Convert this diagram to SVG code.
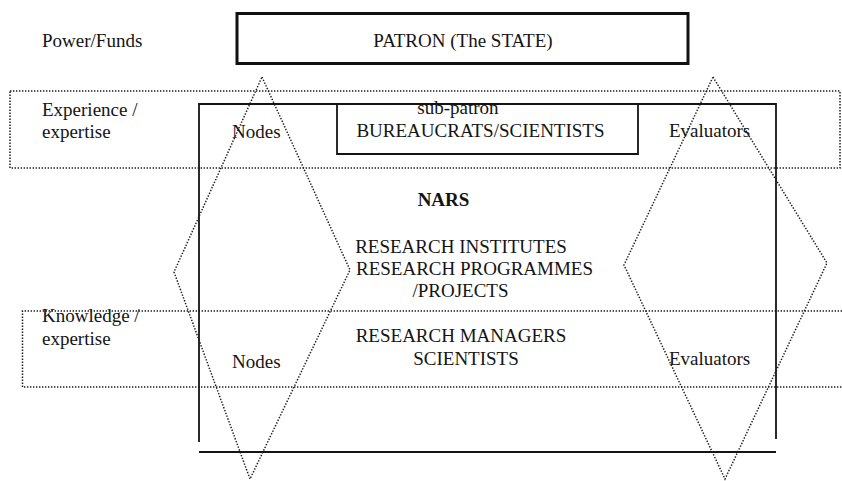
<svg xmlns="http://www.w3.org/2000/svg" width="842" height="481" viewBox="0 0 842 481">
  <style>
    text { font-family: "Liberation Serif", "Times New Roman", serif; font-size: 19px; fill: #141414; }
    .mid { text-anchor: middle; }
    .bold { font-weight: bold; }
    .solid { fill: none; stroke: #141414; stroke-width: 1.8; }
    .thick { fill: none; stroke: #111; stroke-width: 3; }
    .dot { fill: none; stroke: #1e1e1e; stroke-width: 1.5; stroke-dasharray: 1.4 1.6; }
  </style>
  <rect width="842" height="481" fill="#fff"/>

  <!-- layer labels on the left -->
  <g id="labels">
    <text x="42" y="47">Power/Funds</text>
    <text x="42" y="116">Experience /</text>
    <text x="42" y="138">expertise</text>
    <text x="42" y="322">Knowledge /</text>
    <text x="42" y="345">expertise</text>
  </g>

  <!-- dotted bands -->
  <g id="bands">
    <rect class="dot" x="10" y="91" width="830" height="77"/>
    <path class="dot" d="M842 311 H22.5 V387 H842"/>
  </g>

  <!-- patron -->
  <g id="patron">
    <rect class="thick" x="237" y="13.5" width="451" height="50"/>
    <text class="mid" x="463" y="47">PATRON (The STATE)</text>
  </g>

  <!-- NARS frame -->
  <g id="nars">
    <path class="solid" d="M199 442 V104 H776 V439"/>
    <path class="solid" d="M199 452 H776"/>
    <text class="mid bold" x="443.5" y="206">NARS</text>
    <text class="mid" x="461" y="253">RESEARCH INSTITUTES</text>
    <text class="mid" x="474.5" y="275">RESEARCH PROGRAMMES</text>
    <text class="mid" x="460.5" y="297">/PROJECTS</text>
    <text class="mid" x="461" y="342">RESEARCH MANAGERS</text>
    <text class="mid" x="466" y="365">SCIENTISTS</text>
  </g>

  <!-- sub-patron -->
  <g id="sub-patron">
    <path class="solid" d="M337 104 V154 H638 V104"/>
    <text class="mid" x="458" y="114">sub-patron</text>
    <text class="mid" x="480.5" y="137">BUREAUCRATS/SCIENTISTS</text>
  </g>

  <!-- nodes -->
  <g id="nodes">
    <text x="232" y="138">Nodes</text>
    <text x="232" y="368">Nodes</text>
  </g>

  <!-- evaluators -->
  <g id="evaluators">
    <text x="669" y="137">Evaluators</text>
    <text x="669" y="365">Evaluators</text>
  </g>

  <!-- dotted diamonds spanning the layers -->
  <g id="connectors">
    <polygon class="dot" points="262,77 350,270 250,479 174,272"/>
    <polygon class="dot" points="713,77 827,263 725,479 624,265"/>
  </g>
</svg>
